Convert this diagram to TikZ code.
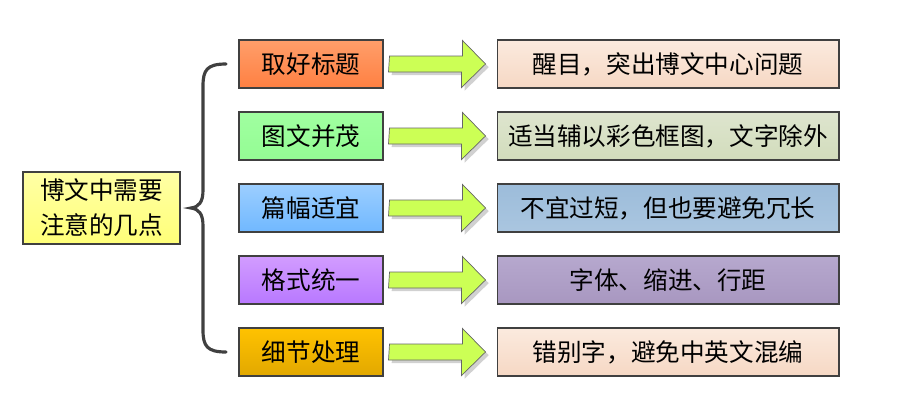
\documentclass[tikz,border=0pt]{standalone}
\usepackage{fontspec}
\usetikzlibrary{calc,shadows}
\newfontfamily\cjk{Noto Sans CJK SC}

\definecolor{mainTop}{RGB}{255,255,165}
\definecolor{mainBot}{RGB}{255,255,120}
\definecolor{orTop}{RGB}{255,158,106}
\definecolor{orBot}{RGB}{255,128,66}
\definecolor{grTop}{RGB}{160,255,160}
\definecolor{grBot}{RGB}{148,252,148}
\definecolor{blTop}{RGB}{156,206,255}
\definecolor{blBot}{RGB}{112,184,255}
\definecolor{puTop}{RGB}{210,156,255}
\definecolor{puBot}{RGB}{184,120,255}
\definecolor{goTop}{RGB}{255,194,0}
\definecolor{goBot}{RGB}{226,168,0}
\definecolor{peTop}{RGB}{251,234,222}
\definecolor{peBot}{RGB}{246,216,196}
\definecolor{olTop}{RGB}{222,229,206}
\definecolor{olBot}{RGB}{210,220,188}
\definecolor{stTop}{RGB}{156,188,218}
\definecolor{stBot}{RGB}{170,198,224}
\definecolor{laTop}{RGB}{182,168,206}
\definecolor{laBot}{RGB}{168,151,192}
\definecolor{lime}{RGB}{204,255,85}

\begin{document}
\begin{tikzpicture}[x=0.02cm, y=0.02cm,
  every node/.style={font=\cjk\fontsize{14}{20}\selectfont, text=black},
  mainbox/.style={draw=black!75, line width=0.6pt, minimum width=3.14cm, minimum height=1.44cm, inner sep=0pt, align=center},
  pointbox/.style={draw=black!75, line width=0.6pt, minimum width=2.88cm, minimum height=0.96cm, inner sep=0pt},
  notebox/.style={draw=black!75, line width=0.6pt, minimum width=6.84cm, minimum height=0.96cm, inner sep=0pt},
  bigarrow/.style={draw=black!60, line width=0.4pt, fill=lime, drop shadow={shadow xshift=1.8pt, shadow yshift=-1.8pt, fill=black!30, opacity=0.6}},
  bracket/.style={draw=black!75, line width=1.8pt, line cap=round}]
	\useasboundingbox (0,0) rectangle (898,-410);
	% left topic
	\node[mainbox, top color=mainTop, bottom color=mainBot] (topic) at (101.5,-208) {博文中需要\\注意的几点};
	\coordinate (bracetip) at (191,-208);
	\draw[bracket] (226,-64) .. controls (207,-64) and (203,-70) .. (203,-86) -- (203,-190)
		.. controls (203,-202) and (199,-207) .. (bracetip)
		.. controls (199,-209) and (203,-214) .. (203,-226) -- (203,-330)
		.. controls (203,-346) and (207,-352) .. (226,-352);
	% points
	\node[pointbox, top color=orTop, bottom color=orBot] (p1) at (311,-64) {取好标题};
	\node[pointbox, top color=grTop, bottom color=grBot] (p2) at (311,-136) {图文并茂};
	\node[pointbox, top color=blTop, bottom color=blBot] (p3) at (311,-208) {篇幅适宜};
	\node[pointbox, top color=puTop, bottom color=puBot] (p4) at (311,-280) {格式统一};
	\node[pointbox, top color=goTop, bottom color=goBot] (p5) at (311,-352) {细节处理};
	% notes
	\node[notebox, top color=peTop, bottom color=peBot] (n1) at (668,-64) {醒目，突出博文中心问题};
	\node[notebox, top color=olTop, bottom color=olBot] (n2) at (668,-136) {适当辅以彩色框图，文字除外};
	\node[notebox, top color=stTop, bottom color=stBot] (n3) at (668,-208) {不宜过短，但也要避免冗长};
	\node[notebox, top color=laTop, bottom color=laBot] (n4) at (668,-280) {字体、缩进、行距};
	\node[notebox, top color=peTop, bottom color=peBot] (n5) at (668,-352) {错别字，避免中英文混编};
	% arrows
	\draw[bigarrow] ($(p1.east)+(6,8)$) -- ++(73,0) -- ++(0,15.5) -- ($(n1.west)+(-11,0)$) -- ++(-24,-23.5) -- ++(0,15.5) -- ++(-73,0) -- cycle;
	\draw[bigarrow] ($(p2.east)+(6,8)$) -- ++(73,0) -- ++(0,15.5) -- ($(n2.west)+(-11,0)$) -- ++(-24,-23.5) -- ++(0,15.5) -- ++(-73,0) -- cycle;
	\draw[bigarrow] ($(p3.east)+(6,8)$) -- ++(73,0) -- ++(0,15.5) -- ($(n3.west)+(-11,0)$) -- ++(-24,-23.5) -- ++(0,15.5) -- ++(-73,0) -- cycle;
	\draw[bigarrow] ($(p4.east)+(6,8)$) -- ++(73,0) -- ++(0,15.5) -- ($(n4.west)+(-11,0)$) -- ++(-24,-23.5) -- ++(0,15.5) -- ++(-73,0) -- cycle;
	\draw[bigarrow] ($(p5.east)+(6,8)$) -- ++(73,0) -- ++(0,15.5) -- ($(n5.west)+(-11,0)$) -- ++(-24,-23.5) -- ++(0,15.5) -- ++(-73,0) -- cycle;
\end{tikzpicture}
\end{document}
